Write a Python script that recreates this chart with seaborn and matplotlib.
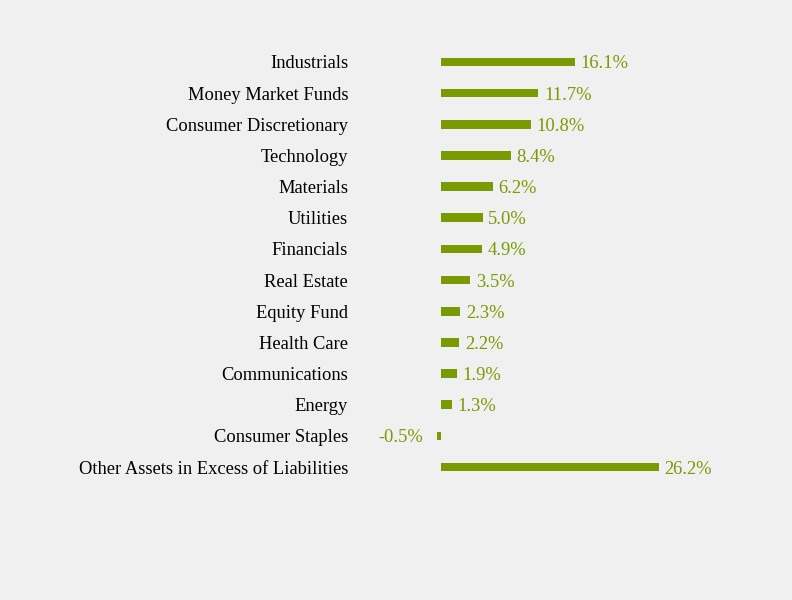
import matplotlib
matplotlib.use("Agg")
import matplotlib.pyplot as plt
import seaborn as sns
import pandas as pd

sectors = [
    "Industrials", "Money Market Funds", "Consumer Discretionary", "Technology",
    "Materials", "Utilities", "Financials", "Real Estate", "Equity Fund",
    "Health Care", "Communications", "Energy", "Consumer Staples",
    "Other Assets in Excess of Liabilities",
]
weights = [16.1, 11.7, 10.8, 8.4, 6.2, 5.0, 4.9, 3.5, 2.3, 2.2, 1.9, 1.3, -0.5, 26.2]

BG = "#f0f0f0"
GREEN = "#7a9a01"

df = pd.DataFrame({"Sector": sectors, "Weight": weights})

sns.set_style("white")
plt.rcParams["font.family"] = ["Liberation Serif", "DejaVu Serif"]

fig = plt.figure(figsize=(7.92, 6), dpi=100, facecolor=BG)
ax = fig.add_axes([357.8 / 792, 1 - 482.6 / 600, 333 / 792, 436.2 / 600])
ax.set_facecolor(BG)

sns.barplot(data=df, x="Weight", y="Sector", orient="h", color=GREEN,
            saturation=1, width=0.28, linewidth=0, ax=ax)

# value labels next to each bar
for i, v in enumerate(weights):
    if v >= 0:
        ax.annotate(f"{v:.1f}%", (v, i), xytext=(4, 0), textcoords="offset points",
                    ha="left", va="center_baseline", color=GREEN, fontsize=13.3)
    else:
        ax.annotate(f"{v:.1f}%", (v, i), xytext=(-10, 0), textcoords="offset points",
                    ha="right", va="center_baseline", color=GREEN, fontsize=13.3)

ax.set_xlim(-10, 30)
ax.set_ylim(13.5, -0.5)
ax.set_xlabel("")
ax.set_ylabel("")
ax.set_xticks([])
ax.tick_params(axis="y", length=0, pad=7, labelsize=13.3, labelcolor="black")
sns.despine(ax=ax, left=True, bottom=True)

fig.savefig("out.png", dpi=100, facecolor=BG)
